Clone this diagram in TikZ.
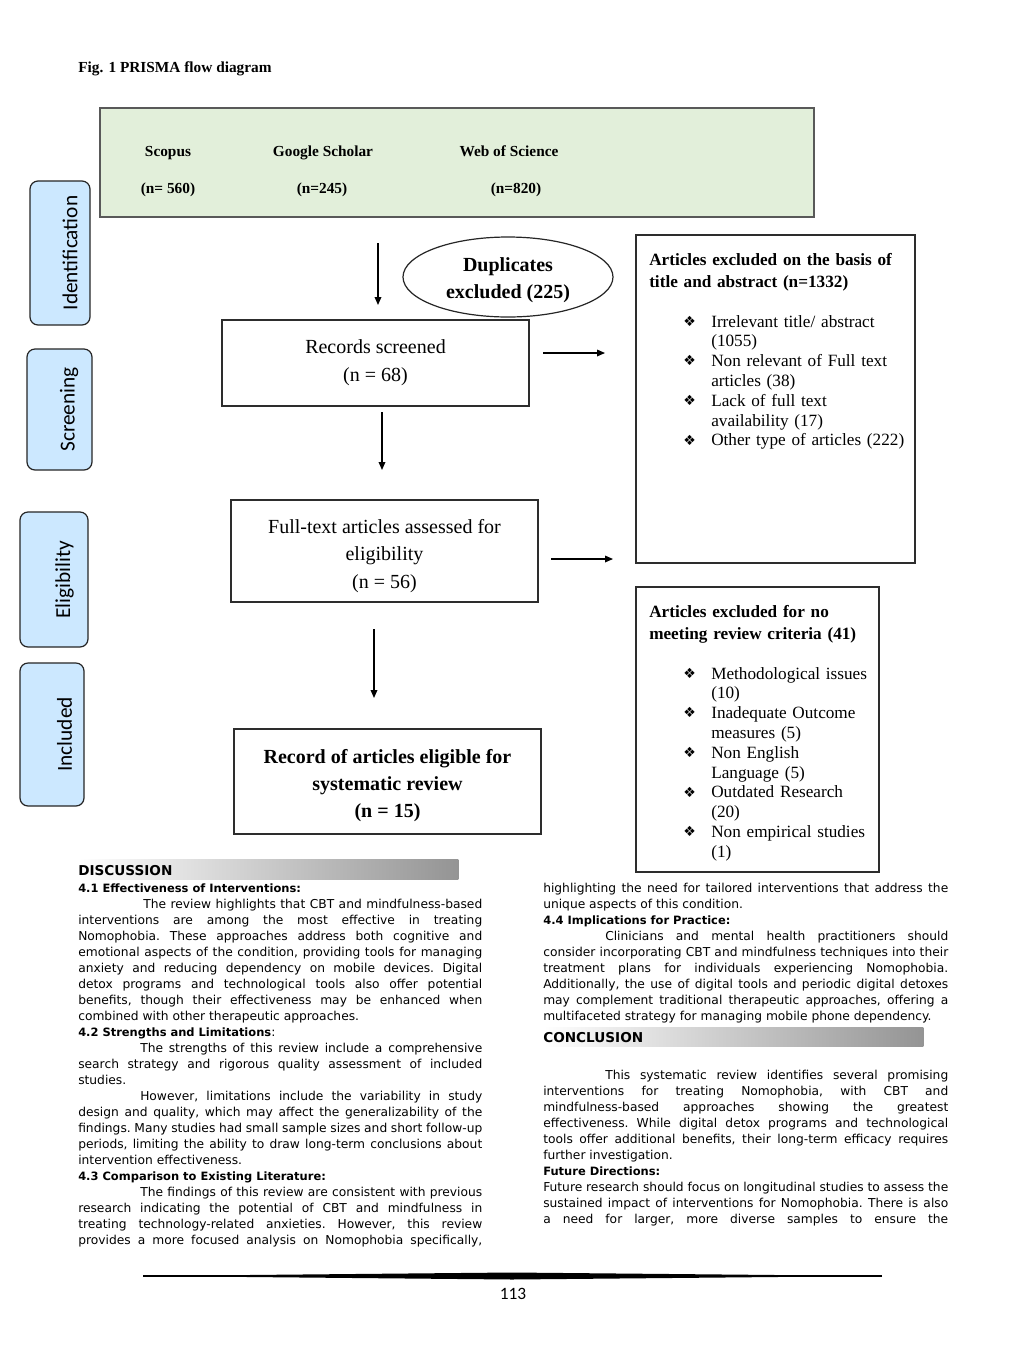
\documentclass[tikz,border=0pt]{standalone}
\usepackage{fontspec}
\setmainfont{Liberation Serif}
\newfontfamily\dvs{DejaVu Sans}
\newfontfamily\clb{Carlito}
\usetikzlibrary{shapes.geometric,arrows.meta}
\definecolor{grn}{RGB}{226,239,218}
\definecolor{sideblue}{RGB}{204,232,255}
\definecolor{bordr}{RGB}{45,45,45}
\newcommand\bulx{\leavevmode\llap{\raisebox{0.5pt}{\dvs\fontsize{10.5pt}{10.5pt}\selectfont ❖}\hspace{11.5pt}}}
\newcommand\subhd[1]{{\fontsize{8.6pt}{12pt}\selectfont\bfseries #1}}
\newcommand\setpar{\tolerance=10000\hyphenpenalty=10000\exhyphenpenalty=10000\frenchspacing\relax}
\tikzset{
  box/.style={draw=bordr, line width=0.9pt, inner sep=0pt, rectangle},
  sidebox/.style={draw=black!85, fill=sideblue, line width=0.9pt, rounded corners=6pt, inner sep=0pt},
  sidetxt/.style={font=\clb\fontsize{16pt}{18pt}\selectfont, rotate=90, inner sep=0pt},
  flowtxt/.style={font=\fontsize{15pt}{20.5pt}\selectfont, align=center, inner sep=0pt},
  arr/.style={-{Triangle[length=6pt,width=5pt]}, line width=0.9pt, draw=black},
  srctxt/.style={font=\bfseries\fontsize{11.5pt}{13pt}\selectfont, inner sep=0pt, anchor=base},
  extitle/.style={font=\bfseries\fontsize{12.9pt}{16.5pt}\selectfont, text width=205pt, align=left, inner sep=0pt, anchor=base west},
  exitems/.style={font=\fontsize{12.9pt}{14.85pt}\selectfont, text width=160pt, align=left, inner sep=0pt, anchor=base west},
  body/.style={font=\dvs\fontsize{9.2pt}{12pt}\selectfont, align=justify, inner sep=0pt, anchor=base west},
  bar/.style={left color=white, right color=black!42, draw=none, inner sep=0pt, anchor=north west},
  barhd/.style={font=\dvs\bfseries\fontsize{10.2pt}{12pt}\selectfont, inner sep=0pt, anchor=base west},
}
\begin{document}
\begin{tikzpicture}[x=0.75pt,y=-0.75pt]
\useasboundingbox (0,0) rectangle (1024,1365);
\fill[white] (0,0) rectangle (1024,1365);

% title
\node[font=\bfseries\fontsize{11.5pt}{13pt}\selectfont, inner sep=0pt, anchor=base west] (figtitle) at (78,72) {Fig. 1 PRISMA flow diagram};

% sources box
\node[draw=black!65, fill=grn, line width=0.8pt, minimum width=535.5pt, minimum height=81.75pt, inner sep=0pt] (src) at (457,162.5) {};
\node[srctxt] (scopus) at (168,156) {Scopus};
\node[srctxt] (gs) at (323,156) {Google Scholar};
\node[srctxt] (wos) at (509,156) {Web of Science};
\node[srctxt] (nscopus) at (168,193) {(n= 560)};
\node[srctxt] (ngs) at (322,193) {(n=245)};
\node[srctxt] (nwos) at (516,193) {(n=820)};

% side labels
\node[sidebox, minimum width=45pt, minimum height=108pt] (sid) at (60,253) {};
\node[sidetxt] (sidt) at (70,253) {Identification};
\node[sidebox, minimum width=48.75pt, minimum height=90.75pt] (sscr) at (59.5,409.5) {};
\node[sidetxt] (sscrt) at (69,409.5) {Screening};
\node[sidebox, minimum width=51pt, minimum height=101.25pt] (selig) at (54,579.5) {};
\node[sidetxt] (seligt) at (64.5,579.5) {Eligibility};
\node[sidebox, minimum width=48pt, minimum height=107.25pt] (sinc) at (52,734.5) {};
\node[sidetxt] (sinct) at (64.5,734.5) {Included};

% duplicates ellipse
\node[ellipse, draw=black!85, line width=0.9pt, minimum width=157.5pt, minimum height=60pt, inner sep=0pt] (dup) at (508,277) {};
\node[flowtxt, font=\bfseries\fontsize{15pt}{20.25pt}\selectfont] (duptxt) at (508,280) {Duplicates\\excluded (225)};

% flow boxes
\node[box, minimum width=230.25pt, minimum height=64.5pt] (rec) at (375.5,363) {};
\node[flowtxt, font=\fontsize{15pt}{21pt}\selectfont] (rectxt) at (375.5,363) {Records screened\\(n = 68)};
\node[box, minimum width=230.25pt, minimum height=76.5pt] (full) at (384.5,551) {};
\node[flowtxt, font=\fontsize{15pt}{20.6pt}\selectfont] (fulltxt) at (384.5,556) {Full-text articles assessed for\\eligibility\\(n = 56)};
\node[box, minimum width=230.25pt, minimum height=78.75pt] (incl) at (387.5,781.5) {};
\node[flowtxt, font=\bfseries\fontsize{15pt}{20.25pt}\selectfont] (incltxt) at (387.5,786) {Record of articles eligible for\\systematic review\\(n = 15)};

% exclusion boxes
\node[box, minimum width=209.25pt, minimum height=246pt] (ex1) at (775.5,399) {};
\node[extitle] (ex1t) at (649,265) {Articles excluded on the basis of\\title and abstract (n=1332)};
\node[exitems] (ex1i) at (711,327) {\bulx Irrelevant title/ abstract\\(1055)\\\bulx Non relevant of Full text\\articles (38)\\\bulx Lack of full text\\availability (17)\\\bulx Other type of articles (222)};
\node[box, minimum width=182.25pt, minimum height=213.75pt] (ex2) at (757.5,729.5) {};
\node[extitle] (ex2t) at (649,617) {Articles excluded for no\\meeting review criteria (41)};
\node[exitems] (ex2i) at (711,679) {\bulx Methodological issues\\(10)\\\bulx Inadequate Outcome\\measures (5)\\\bulx Non English\\Language (5)\\\bulx Outdated Research\\(20)\\\bulx Non empirical studies\\(1)};

% arrows
\coordinate (a1s) at (378,243); \coordinate (a1e) at (378,305);
\coordinate (a2s) at (543,353); \coordinate (a2e) at (605,353);
\coordinate (a3s) at (382,412); \coordinate (a3e) at (382,470);
\coordinate (a4s) at (551,559); \coordinate (a4e) at (613,559);
\coordinate (a5s) at (374,629); \coordinate (a5e) at (374,698);
\draw[arr] (a1s) -- (a1e);
\draw[arr] (a2s) -- (a2e);
\draw[arr] (a3s) -- (a3e);
\draw[arr] (a4s) -- (a4e);
\draw[arr] (a5s) -- (a5e);

% discussion
\node[bar, minimum width=285pt, minimum height=15pt] (discbar) at (78,859) {};
\node[barhd] (disch) at (78,875) {DISCUSSION};
\node[body, text width=303pt] (leftcol) at (78,892) {\setpar
\subhd{4.1 Effectiveness of Interventions:}\par
\hspace*{48.75pt}The review highlights that CBT and mindfulness-based\linebreak
interventions are among the most effective in treating\linebreak
Nomophobia. These approaches address both cognitive and\linebreak
emotional aspects of the condition, providing tools for managing\linebreak
anxiety and reducing dependency on mobile devices. Digital\linebreak
detox programs and technological tools also offer potential\linebreak
benefits, though their effectiveness may be enhanced when\linebreak
combined with other therapeutic approaches.\par
\subhd{4.2 Strengths and Limitations}:\par
\hspace*{46.5pt}The strengths of this review include a comprehensive\linebreak
search strategy and rigorous quality assessment of included\linebreak
studies.\par
\hspace*{46.5pt}However, limitations include the variability in study\linebreak
design and quality, which may affect the generalizability of the\linebreak
findings. Many studies had small sample sizes and short follow-up\linebreak
periods, limiting the ability to draw long-term conclusions about\linebreak
intervention effectiveness.\par
\subhd{4.3 Comparison to Existing Literature:}\par
{\parfillskip=0pt
\hspace*{46.5pt}The findings of this review are consistent with previous\linebreak
research indicating the potential of CBT and mindfulness in\linebreak
treating technology-related anxieties. However, this review\linebreak
provides a more focused analysis on Nomophobia specifically,\par}
};

\node[body, text width=303.75pt] (righttop) at (543,892) {\setpar
highlighting the need for tailored interventions that address the\linebreak
unique aspects of this condition.\par
\subhd{4.4 Implications for Practice:}\par
\hspace*{46.5pt}Clinicians and mental health practitioners should\linebreak
consider incorporating CBT and mindfulness techniques into their\linebreak
treatment plans for individuals experiencing Nomophobia.\linebreak
Additionally, the use of digital tools and periodic digital detoxes\linebreak
may complement traditional therapeutic approaches, offering a\linebreak
multifaceted strategy for managing mobile phone dependency.\par
};

\node[bar, minimum width=285pt, minimum height=14.25pt] (concbar) at (543,1027) {};
\node[barhd] (conch) at (543,1042) {CONCLUSION};
\node[body, text width=303.75pt] (rightbot) at (543,1079) {\setpar
\hspace*{46.5pt}This systematic review identifies several promising\linebreak
interventions for treating Nomophobia, with CBT and\linebreak
mindfulness-based approaches showing the greatest\linebreak
effectiveness. While digital detox programs and technological\linebreak
tools offer additional benefits, their long-term efficacy requires\linebreak
further investigation.\par
\subhd{Future Directions:}\par
{\parfillskip=0pt
Future research should focus on longitudinal studies to assess the\linebreak
sustained impact of interventions for Nomophobia. There is also\linebreak
a need for larger, more diverse samples to ensure the\par}
};

% footer
\fill[black] (143,1276) -- (512,1272.5) -- (882,1276) -- (512,1279.5) -- cycle;
\draw[line width=0.9pt] (143,1276) -- (882,1276);
\node[font=\clb\fontsize{13pt}{15pt}\selectfont, inner sep=0pt, anchor=base] (pagenum) at (513,1299) {113};
\end{tikzpicture}
\end{document}
